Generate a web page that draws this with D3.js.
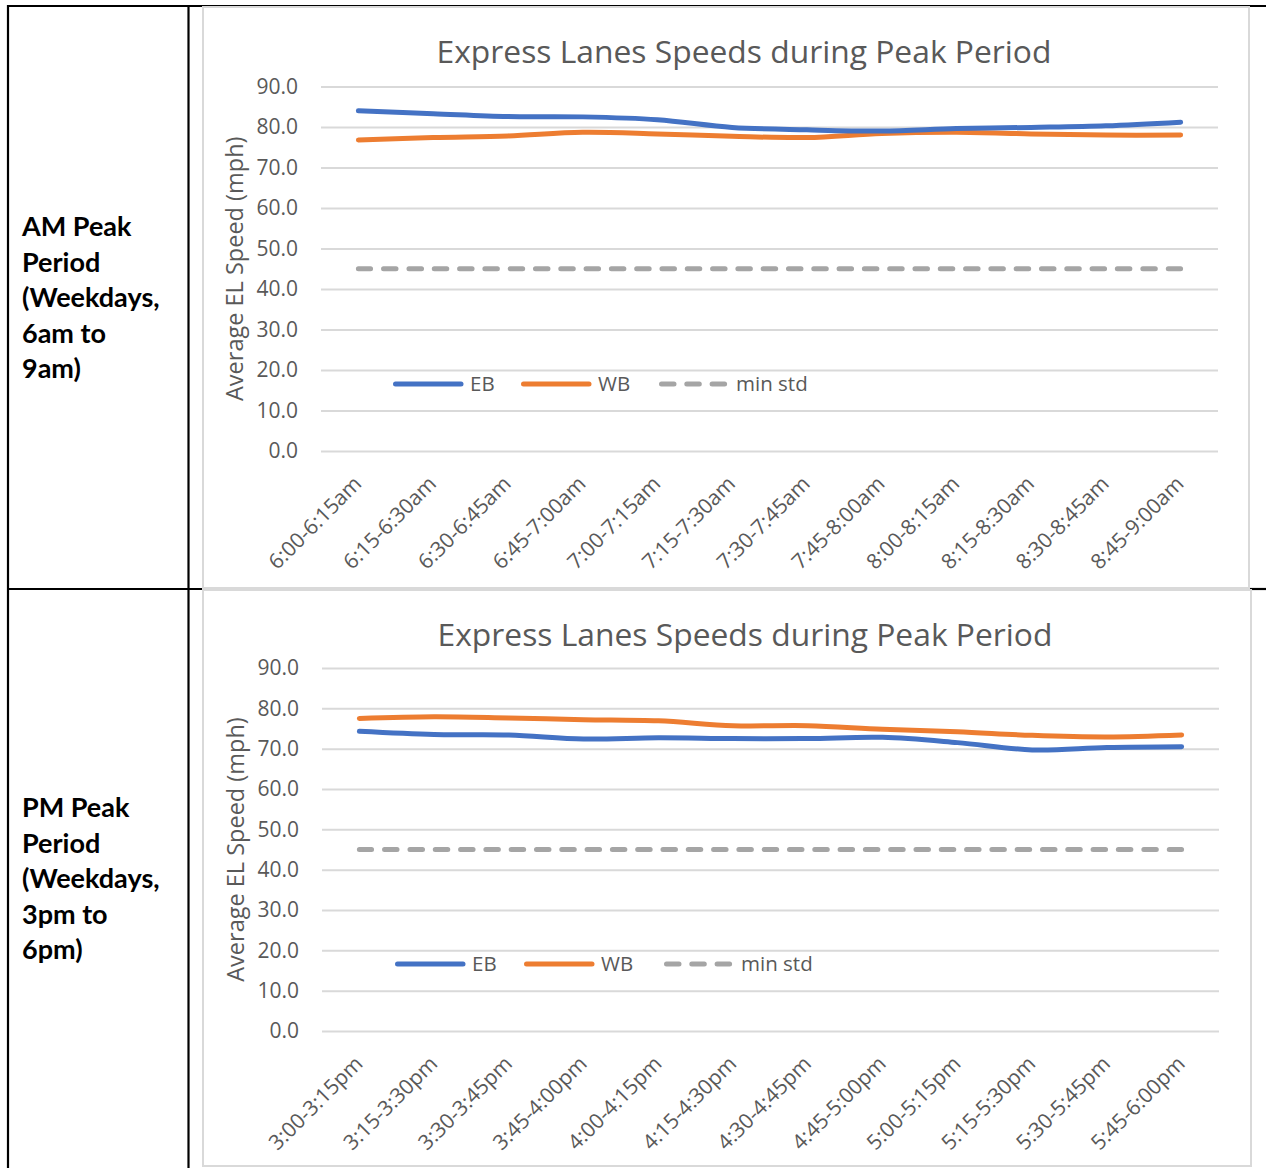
<!DOCTYPE html>
<html>
<head>
<meta charset="utf-8">
<script src="https://cdn.jsdelivr.net/npm/d3@7"></script>
<style>
  html, body { margin: 0; padding: 0; background: #ffffff; }
  svg { display: block; }
</style>
</head>
<body>
<svg id="page" width="1266" height="1168"></svg>
<script>
// ---- Data -------------------------------------------------------------
const amCategories = ["6:00-6:15am", "6:15-6:30am", "6:30-6:45am", "6:45-7:00am",
  "7:00-7:15am", "7:15-7:30am", "7:30-7:45am", "7:45-8:00am",
  "8:00-8:15am", "8:15-8:30am", "8:30-8:45am", "8:45-9:00am"];
const amEB = [84.0, 83.3, 82.6, 82.5, 81.8, 79.9, 79.3, 79.0, 79.6, 79.9, 80.3, 81.2];
const amWB = [76.8, 77.4, 77.8, 78.7, 78.3, 77.7, 77.4, 78.4, 78.7, 78.3, 78.0, 78.0];
const amMinStd = [45, 45, 45, 45, 45, 45, 45, 45, 45, 45, 45, 45];

const pmCategories = ["3:00-3:15pm", "3:15-3:30pm", "3:30-3:45pm", "3:45-4:00pm",
  "4:00-4:15pm", "4:15-4:30pm", "4:30-4:45pm", "4:45-5:00pm",
  "5:00-5:15pm", "5:15-5:30pm", "5:30-5:45pm", "5:45-6:00pm"];
const pmEB = [74.3, 73.5, 73.4, 72.4, 72.7, 72.5, 72.5, 72.8, 71.5, 69.7, 70.3, 70.5];
const pmWB = [77.5, 77.9, 77.6, 77.2, 76.9, 75.7, 75.7, 74.8, 74.2, 73.3, 72.9, 73.4];
const pmMinStd = [45, 45, 45, 45, 45, 45, 45, 45, 45, 45, 45, 45];

const yTicks = [0, 10, 20, 30, 40, 50, 60, 70, 80, 90];
const seriesNames = ["EB", "WB", "min std"];
const chartTitle = "Express Lanes Speeds during Peak Period";
const yAxisTitle = "Average EL Speed (mph)";
const amRowLabel = ["AM Peak", "Period", "(Weekdays,", "6am to", "9am)"];
const pmRowLabel = ["PM Peak", "Period", "(Weekdays,", "3pm to", "6pm)"];

// ---- Styles -----------------------------------------------------------
const colors = { EB: "#4472c4", WB: "#ed7d31", "min std": "#a5a5a5" };
const textColor = "#595959";
const gridColor = "#d9d9d9";
const chartFont = "'Open Sans', sans-serif";
const labelFont = "Lato, sans-serif";
const dashPattern = "12.5,12.8";

const svg = d3.select("#page");

// ---- Table frame ------------------------------------------------------
const table = svg.append("g").attr("stroke", "#000").attr("stroke-width", 2.2);
table.append("line").attr("x1", 8).attr("x2", 1266).attr("y1", 6).attr("y2", 6);
table.append("line").attr("x1", 8).attr("x2", 8).attr("y1", 5).attr("y2", 1168);
table.append("line").attr("x1", 188.5).attr("x2", 188.5).attr("y1", 5).attr("y2", 1168);
table.append("line").attr("x1", 8).attr("x2", 204).attr("y1", 589).attr("y2", 589);
table.append("line").attr("x1", 1250).attr("x2", 1266).attr("y1", 589).attr("y2", 589);

function rowLabel(lines, yFirst) {
  const t = svg.append("text")
    .attr("font-family", labelFont)
    .attr("font-weight", 700)
    .attr("font-size", 27)
    .attr("fill", "#000");
  lines.forEach((s, i) => {
    t.append("tspan").attr("x", 22).attr("y", yFirst + i * 35.6).text(s);
  });
}
rowLabel(amRowLabel, 236);
rowLabel(pmRowLabel, 817);

// ---- Chart ------------------------------------------------------------
function drawChart(cfg) {
  const g = svg.append("g");

  // chart area border
  g.append("rect")
    .attr("x", cfg.frame[0]).attr("y", cfg.frame[1])
    .attr("width", cfg.frame[2] - cfg.frame[0])
    .attr("height", cfg.frame[3] - cfg.frame[1])
    .attr("fill", "#fff").attr("stroke", gridColor).attr("stroke-width", 2);

  const x = d3.scalePoint().domain(cfg.categories).range([cfg.left, cfg.right]).padding(0.5);
  const y = d3.scaleLinear().domain([0, 90]).range([cfg.bottom, cfg.top]);

  // title
  g.append("text")
    .attr("x", cfg.titleX)
    .attr("y", cfg.titleY)
    .attr("text-anchor", "middle")
    .attr("font-family", chartFont)
    .attr("font-size", 31.8)
    .attr("fill", textColor)
    .text(chartTitle);

  // y axis with gridlines
  const yAxis = d3.axisLeft(y)
    .tickValues(yTicks)
    .tickFormat(d3.format(".1f"))
    .tickSizeInner(-(cfg.right - cfg.left))
    .tickSizeOuter(0)
    .tickPadding(23);
  const ya = g.append("g").attr("transform", `translate(${cfg.left},0)`).call(yAxis);
  ya.select(".domain").remove();
  ya.selectAll(".tick line").attr("stroke", gridColor).attr("stroke-width", 2);
  ya.selectAll(".tick text")
    .attr("font-family", chartFont).attr("font-size", 21).attr("fill", textColor);

  // y axis title
  g.append("text")
    .attr("transform", `translate(${cfg.left - 86},${(cfg.top + cfg.bottom) / 2}) rotate(-90)`)
    .attr("text-anchor", "middle")
    .attr("dy", "0.35em")
    .attr("font-family", chartFont)
    .attr("font-size", 23.5)
    .attr("fill", textColor)
    .text(yAxisTitle);

  // x axis category labels
  const xAxis = d3.axisBottom(x).tickSize(0).tickPadding(0);
  const xa = g.append("g").attr("transform", `translate(0,${cfg.bottom})`).call(xAxis);
  xa.select(".domain").remove();
  xa.selectAll(".tick text")
    .attr("font-family", chartFont).attr("font-size", 21).attr("fill", textColor)
    .attr("text-anchor", "end")
    .attr("y", 0).attr("dy", 0)
    .attr("transform", "translate(4,34) rotate(-45)");

  // series
  const series = [
    { name: "EB", values: cfg.eb, dash: null },
    { name: "WB", values: cfg.wb, dash: null },
    { name: "min std", values: cfg.minStd, dash: dashPattern }
  ];
  const line = d3.line()
    .x((d, i) => x(cfg.categories[i]))
    .y(d => y(d))
    .curve(d3.curveCatmullRom.alpha(0.5));

  // dashed reference first, then WB, then EB on top
  [series[2], series[1], series[0]].forEach(s => {
    g.append("path")
      .datum(s.values)
      .attr("d", line)
      .attr("fill", "none")
      .attr("stroke", colors[s.name])
      .attr("stroke-width", 5)
      .attr("stroke-linecap", "round")
      .attr("stroke-linejoin", "round")
      .attr("stroke-dasharray", s.dash);
  });

  // legend
  const lg = g.append("g").attr("transform", `translate(0,${cfg.legendY})`);
  series.forEach((s, i) => {
    const x0 = cfg.legendX[i];
    lg.append("line")
      .attr("x1", x0 + 2.5).attr("x2", x0 + 68)
      .attr("y1", 0).attr("y2", 0)
      .attr("stroke", colors[s.name])
      .attr("stroke-width", 5)
      .attr("stroke-linecap", "round")
      .attr("stroke-dasharray", s.dash);
    lg.append("text")
      .attr("x", x0 + 77)
      .attr("y", 0)
      .attr("dy", "0.36em")
      .attr("font-family", chartFont)
      .attr("font-size", 20.5)
      .attr("fill", textColor)
      .text(s.name);
  });
}

drawChart({
  frame: [203, 7, 1249, 588],
  left: 321, right: 1218, top: 86.5, bottom: 451,
  titleX: 744, titleY: 63,
  categories: amCategories, eb: amEB, wb: amWB, minStd: amMinStd,
  legendY: 384, legendX: [393, 521, 659]
});

drawChart({
  frame: [203, 590, 1251, 1166],
  left: 322, right: 1219, top: 668, bottom: 1031,
  titleX: 745, titleY: 646,
  categories: pmCategories, eb: pmEB, wb: pmWB, minStd: pmMinStd,
  legendY: 964, legendX: [395, 524, 664]
});
</script>
</body>
</html>
